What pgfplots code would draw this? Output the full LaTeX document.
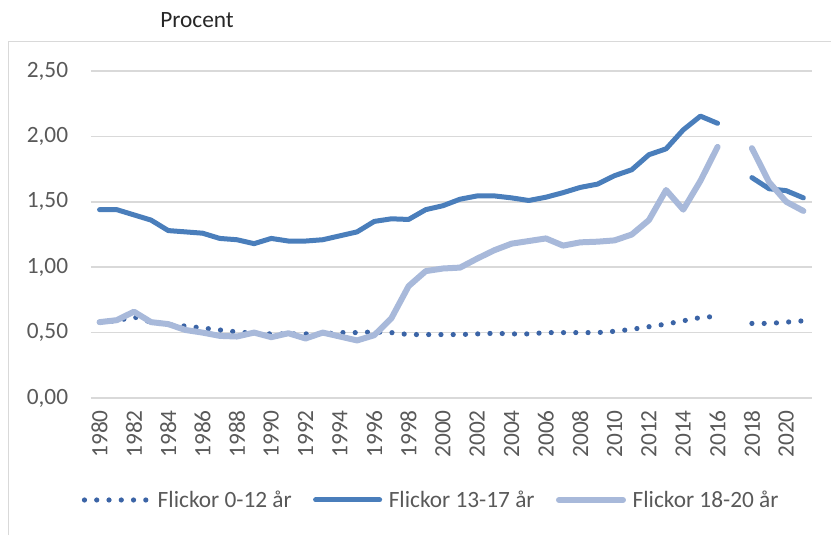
\documentclass[border=0pt]{standalone}
\usepackage{fontspec}
\setmainfont{Carlito}
\usepackage{pgfplots}
\usepackage{pgfplotstable}
\pgfplotsset{compat=1.18}
\definecolor{cdot}{HTML}{3B64A6}
\definecolor{cmid}{HTML}{4A7EBB}
\definecolor{clight}{HTML}{A8B9DA}
\definecolor{cgrid}{HTML}{D9D9D9}
\definecolor{ctext}{HTML}{595959}
\pgfplotstableread{
year a b c
1980 0.58 1.44 0.58
1981 0.59 1.44 0.595
1982 0.62 1.40 0.66
1983 0.58 1.36 0.58
1984 0.56 1.28 0.565
1985 0.55 1.27 0.52
1986 0.535 1.26 0.50
1987 0.52 1.22 0.475
1988 0.505 1.21 0.47
1989 0.495 1.18 0.50
1990 0.49 1.22 0.465
1991 0.49 1.20 0.495
1992 0.49 1.20 0.455
1993 0.49 1.21 0.50
1994 0.50 1.24 0.47
1995 0.50 1.27 0.44
1996 0.505 1.35 0.48
1997 0.50 1.37 0.61
1998 0.485 1.365 0.855
1999 0.485 1.44 0.97
2000 0.485 1.47 0.99
2001 0.485 1.52 0.997
2002 0.49 1.545 1.066
2003 0.495 1.545 1.13
2004 0.49 1.53 1.18
2005 0.49 1.51 1.20
2006 0.50 1.535 1.22
2007 0.50 1.57 1.165
2008 0.50 1.61 1.19
2009 0.50 1.635 1.195
2010 0.51 1.70 1.205
2011 0.525 1.745 1.25
2012 0.545 1.86 1.36
2013 0.565 1.905 1.59
2014 0.59 2.05 1.44
2015 0.615 2.155 1.66
2016 0.625 2.10 1.92
2017 nan nan nan
2018 0.57 1.685 1.91
2019 0.57 1.60 1.65
2020 0.58 1.585 1.50
2021 0.59 1.53 1.43
}\data
\begin{document}
\begin{tikzpicture}
\path[use as bounding box] (-68.25pt,-102.75pt) rectangle (555pt,298.5pt);
\draw[cgrid, line width=1.1pt] (-62pt,-102.75pt) -- (-62pt,267.2pt) -- (555pt,267.2pt);
\node[anchor=base west, inner sep=0pt, font=\fontsize{17.5}{21}\selectfont, text=black!85] at (51.75pt,277.5pt) {Procent};
\begin{axis}[
  at={(0,0)}, anchor=south west,
  scale only axis, width=540.75pt, height=245.25pt,
  xmin=1979.5, xmax=2021.5, ymin=0, ymax=2.5,
  axis line style={draw=none},
  major tick length=0pt,
  xtick={1980,1982,...,2020},
  ytick={0,0.5,...,2.5},
  ymajorgrids, grid style={cgrid, line width=1.1pt},
  unbounded coords=jump,
  /pgf/number format/assume math mode=true,
  xticklabel style={/pgf/number format/1000 sep={}, rotate=90, anchor=east, inner sep=0pt},
  yticklabel style={/pgf/number format/.cd, use comma, fixed, fixed zerofill, precision=2},
  xticklabel shift=9pt,
  yticklabel shift=17pt,
  ticklabel style={font=\fontsize{17.5}{21}\selectfont, text=ctext, inner sep=0pt},
  legend columns=3,
  legend style={at={(0.4723,-0.3119)}, anchor=center, draw=none, fill=none,
    font=\fontsize{17.5}{21}\selectfont, text=ctext, column sep=3pt,
    nodes={inner sep=2pt},
    /tikz/every even column/.append style={column sep=14pt}},
  legend image code/.code={\draw[#1] (0pt,0pt) -- (48pt,0pt);},
]
\addplot[cdot, line width=3.9pt, line cap=round, dash pattern=on 0pt off 9.2pt] table[x=year,y=a]{\data};
\addlegendentry{Flickor 0-12 år}
\addplot[cmid, line width=3.75pt, line cap=round, line join=round] table[x=year,y=b]{\data};
\addlegendentry{Flickor 13-17 år}
\addplot[clight, line width=4.5pt, line cap=round, line join=round] table[x=year,y=c]{\data};
\addlegendentry{Flickor 18-20 år}
\end{axis}
\end{tikzpicture}
\end{document}
